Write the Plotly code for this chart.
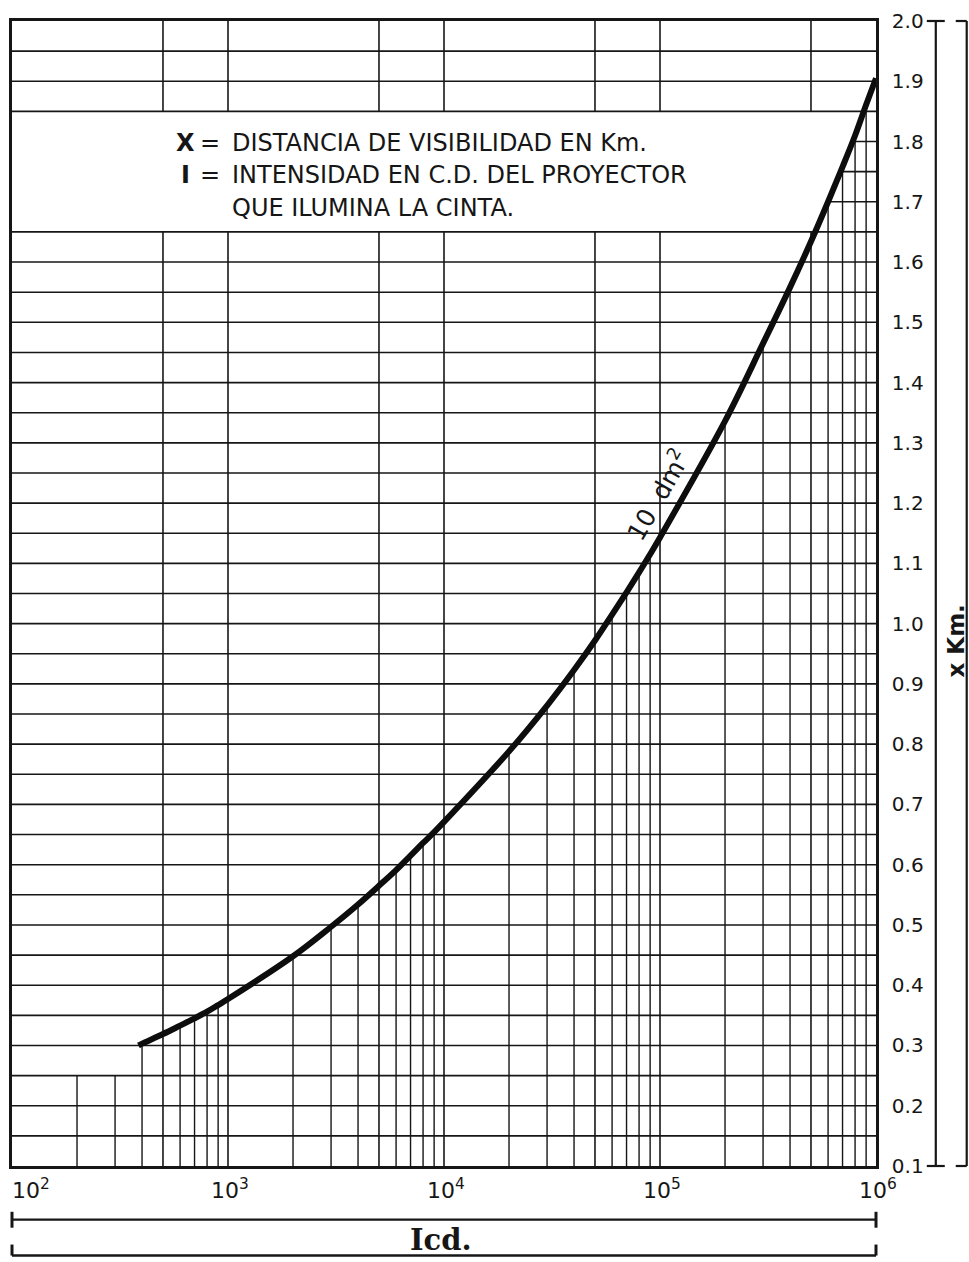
import numpy as np
import plotly.graph_objects as go

# Visibility curve for a 10 dm² target: projector intensity (cd) vs. distance (km)
intensity_cd = [385, 400, 500, 600, 700, 800, 900,
                1e3, 2e3, 3e3, 4e3, 5e3, 6e3, 7e3, 8e3, 9e3,
                1e4, 2e4, 3e4, 4e4, 5e4, 6e4, 7e4, 8e4, 9e4,
                1e5, 2e5, 3e5, 4e5, 5e5, 6e5, 7e5, 8e5, 9e5, 1e6]
distance_km = [0.300, 0.303, 0.319, 0.333, 0.345, 0.356, 0.367,
               0.377, 0.448, 0.497, 0.534, 0.565, 0.591, 0.615, 0.636, 0.654,
               0.671, 0.788, 0.864, 0.923, 0.972, 1.015, 1.052, 1.085, 1.115,
               1.143, 1.336, 1.465, 1.558, 1.634, 1.700, 1.758, 1.810, 1.861, 1.905]

# Axis extents and grid
x_min, x_max = 1e2, 1e6
y_min, y_max = 0.1, 2.0
y_ticks = [round(0.1 * k, 1) for k in range(1, 21)]
y_grid = [round(0.15 + 0.05 * k, 2) for k in range(37)]          # 0.15 ... 1.95
x_major = [500, 1e3, 5e3, 1e4, 5e4, 1e5, 5e5]                      # full-height verticals
x_stub = [200, 300]                                                # short verticals at the start
stub_top = 0.25
x_labels = [2, 3, 4, 5, 6]                                         # powers of ten

# Legend box (blank band) limits
box_bottom, box_top = 1.65, 1.85

INK = "#161616"
FONT = "DejaVu Sans"

fig = go.Figure()


def segments(pairs):
    xs, ys = [], []
    for (xa, ya), (xb, yb) in pairs:
        xs += [xa, xb, None]
        ys += [ya, yb, None]
    return xs, ys


# horizontal grid, except the two legend box edges (drawn over the mask)
h_inner = [y for y in y_grid if y not in (box_bottom, box_top)]
hx, hy = segments([((x_min, y), (x_max, y)) for y in h_inner])
fig.add_trace(go.Scatter(x=hx, y=hy, mode="lines",
                         line=dict(color=INK, width=1.6), hoverinfo="skip"))

# full-height vertical grid
vx, vy = segments([((x, y_min), (x, y_max)) for x in x_major])
fig.add_trace(go.Scatter(x=vx, y=vy, mode="lines",
                         line=dict(color=INK, width=1.6), hoverinfo="skip"))

# white band for the legend text, bounded on the right by the curve
log_i = np.log10(intensity_cd)
i_lo = 10 ** np.interp(box_bottom, distance_km, log_i)
i_hi = 10 ** np.interp(box_top, distance_km, log_i)
inner = [(i, d) for i, d in zip(intensity_cd, distance_km) if box_bottom < d < box_top]
mask_x = [x_min, x_min, i_hi] + [i for i, _ in reversed(inner)] + [i_lo, x_min]
mask_y = [box_bottom, box_top, box_top] + [d for _, d in reversed(inner)] + [box_bottom, box_bottom]
fig.add_trace(go.Scatter(x=mask_x, y=mask_y, mode="lines", fill="toself",
                         fillcolor="white", line=dict(width=0), hoverinfo="skip"))

# legend box edges
ex, ey = segments([((x_min, y), (x_max, y)) for y in (box_bottom, box_top)])
fig.add_trace(go.Scatter(x=ex, y=ey, mode="lines",
                         line=dict(color=INK, width=1.6), hoverinfo="skip"))

# hatching under the curve: each minor grid line rises to the curve
hatch = [((i, y_min), (i, d)) for i, d in zip(intensity_cd, distance_km)
         if i not in x_major and i not in (intensity_cd[0], x_max)]
hatch += [((i, y_min), (i, stub_top)) for i in x_stub]
kx, ky = segments(hatch)
fig.add_trace(go.Scatter(x=kx, y=ky, mode="lines",
                         line=dict(color=INK, width=1.4), hoverinfo="skip"))

# the curve
fig.add_trace(go.Scatter(x=intensity_cd, y=distance_km, mode="lines",
                         line=dict(color="#0d0d0d", width=6, shape="spline", smoothing=1.0),
                         hoverinfo="skip"))

annotations = []
for p in x_labels:
    annotations.append(dict(
        x=p, y=0, xref="x", yref="paper", yanchor="top",
        xanchor="left" if p == x_labels[0] else "center",
        xshift=-2 if p == x_labels[0] else 2, yshift=-7,
        text=f"10<sup>{p}</sup>", showarrow=False,
        font=dict(family=FONT, size=22, color=INK)))

# legend text: symbol, equals sign, description
legend_font = dict(family=FONT, size=24, color=INK)
legend_rows = [
    ("X", "DISTANCIA DE VISIBILIDAD EN Km.", 0.8931),
    ("I", "INTENSIDAD EN C.D. DEL PROYECTOR", 0.8653),
    ("", "QUE ILUMINA LA CINTA.", 0.8367),
]
for sym, txt, ay_ in legend_rows:
    if sym:
        annotations.append(dict(x=0.2007, y=ay_, xref="paper", yref="paper",
                                xanchor="center", yanchor="middle", text=f"<b>{sym}</b>",
                                showarrow=False, font=legend_font))
        annotations.append(dict(x=0.2295, y=ay_, xref="paper", yref="paper",
                                xanchor="center", yanchor="middle", text="=",
                                showarrow=False, font=legend_font))
    annotations.append(dict(x=0.2526, y=ay_, xref="paper", yref="paper",
                            xanchor="left", yanchor="middle", text=txt,
                            showarrow=False, font=legend_font))

annotations.append(dict(x=4.99, y=1.214, xref="x", yref="y", text="10  dm<sup>2</sup>",
                        textangle=-60, showarrow=False,
                        font=dict(family=FONT, size=25, color=INK)))
annotations.append(dict(x=0.497, y=-0.0643, xref="paper", yref="paper", text="<b>Icd.</b>",
                        xanchor="center", yanchor="middle", showarrow=False,
                        font=dict(family="DejaVu Serif", size=29, color=INK)))
annotations.append(dict(x=1.0923, y=0.4587, xref="paper", yref="paper", text="<b>x Km.</b>",
                        xanchor="center", yanchor="middle", textangle=-90, showarrow=False,
                        font=dict(family=FONT, size=23, color=INK)))


def pline(x0, y0, x1, y1, w=2.2):
    return dict(type="line", xref="paper", yref="paper", x0=x0, y0=y0, x1=x1, y1=y1,
                line=dict(color=INK, width=w))


shapes = [
    # bracket under the x labels
    pline(0, -0.0469, 1, -0.0469),
    pline(0, -0.0400, 0, -0.0539, 3),
    pline(1, -0.0400, 1, -0.0539, 3),
    # bracket under the axis title
    pline(0, -0.0782, 1, -0.0782, 2.6),
    pline(0, -0.0782, 0, -0.0686, 3),
    pline(1, -0.0782, 1, -0.0686, 3),
    # right-hand range bar
    pline(1.0692, 0, 1.0692, 1),
    pline(1.0588, 1, 1.0796, 1),
    pline(1.0588, 0, 1.0796, 0),
    # outer right bracket
    pline(1.1050, 0, 1.1050, 1),
    pline(1.0923, 1, 1.1050, 1),
    pline(1.0923, 0, 1.1050, 0),
]

fig.update_layout(
    width=969, height=1262,
    margin=dict(l=9, r=93, t=15, b=96),
    paper_bgcolor="white", plot_bgcolor="white",
    showlegend=False,
    annotations=annotations, shapes=shapes,
    xaxis=dict(type="log", range=[np.log10(x_min), np.log10(x_max)],
               showgrid=False, zeroline=False, showticklabels=False, ticks="",
               showline=True, mirror=True, linecolor=INK, linewidth=2.6),
    yaxis=dict(range=[y_min, y_max], side="right",
               tickvals=y_ticks, ticktext=[f"{v:.1f}" for v in y_ticks],
               ticks="", ticklabelstandoff=9,
               tickfont=dict(family=FONT, size=20, color=INK),
               showgrid=False, zeroline=False,
               showline=True, mirror=True, linecolor=INK, linewidth=2.6),
)

fig.write_html("out.html")
